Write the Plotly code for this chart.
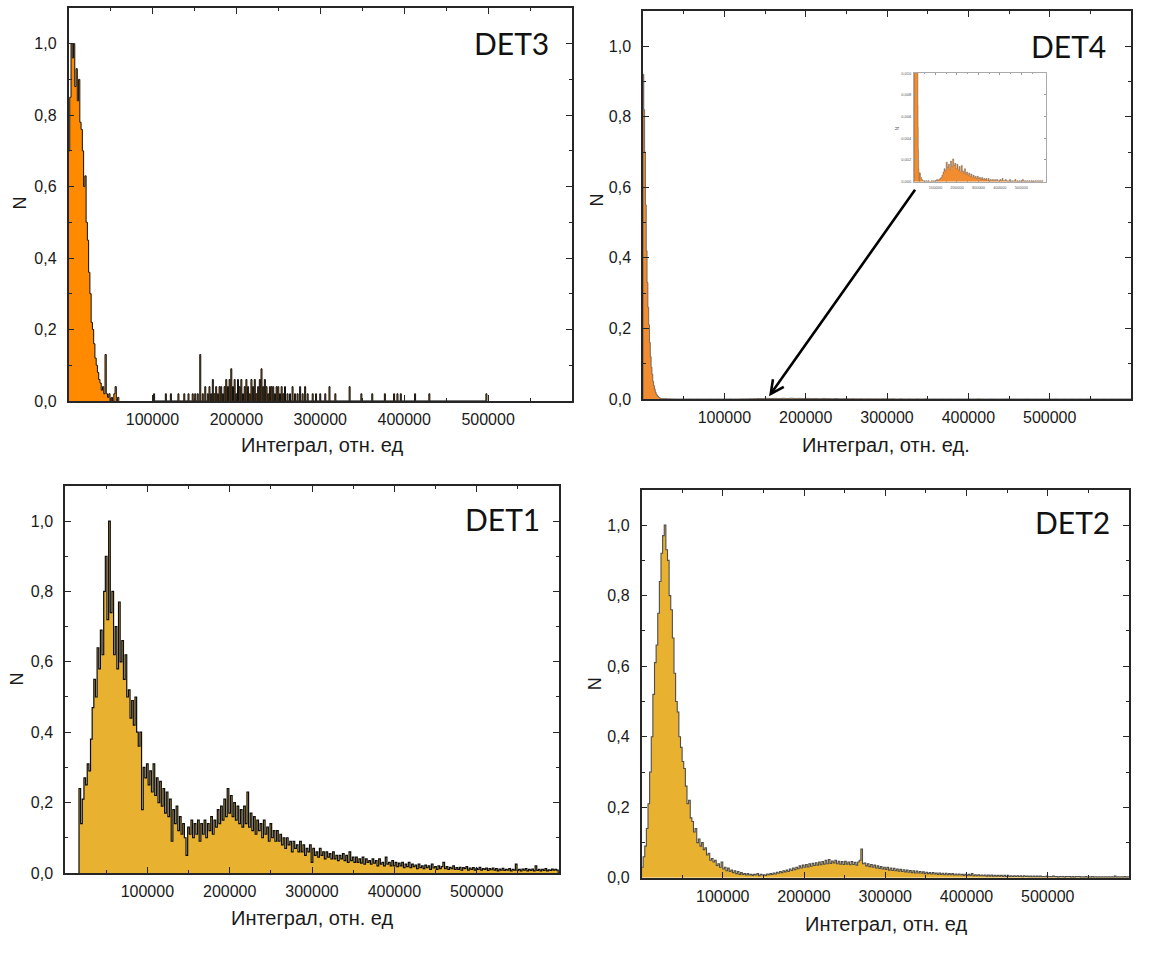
import plotly.graph_objects as go

W, H = 1158, 955

# ---------------- DATA ----------------
# DET1: bins of 2000, first bin left edge 17000
det1_start, det1_bw = 17000, 2000
det1_vals = [
    0.24, 0.14, 0.21, 0.27, 0.25, 0.31, 0.29, 0.38, 0.47, 0.55,
    0.50, 0.64, 0.58, 0.69, 0.62, 0.80, 0.90, 0.72, 1.00, 0.74,
    0.80, 0.62, 0.70, 0.58, 0.77, 0.60, 0.66, 0.55, 0.62, 0.50,
    0.52, 0.44, 0.49, 0.42, 0.50, 0.40, 0.36, 0.40, 0.18, 0.30,
    0.27, 0.31, 0.25, 0.29, 0.23, 0.31, 0.22, 0.27, 0.20, 0.26,
    0.19, 0.24, 0.17, 0.23, 0.16, 0.21, 0.09, 0.18, 0.14, 0.19,
    0.12, 0.16, 0.11, 0.14, 0.10, 0.05, 0.13, 0.11, 0.15, 0.10,
    0.14, 0.11, 0.15, 0.09, 0.14, 0.11, 0.15, 0.10, 0.14, 0.12,
    0.16, 0.11, 0.15, 0.13, 0.18, 0.14, 0.19, 0.15, 0.21, 0.16,
    0.24, 0.17, 0.22, 0.16, 0.20, 0.15, 0.19, 0.14, 0.18, 0.13,
    0.19, 0.14, 0.23, 0.13, 0.17, 0.12, 0.16, 0.11, 0.15, 0.12,
    0.14, 0.10, 0.15, 0.11, 0.13, 0.09, 0.14, 0.10, 0.12, 0.09,
    0.12, 0.09, 0.11, 0.08, 0.10, 0.07, 0.10, 0.08, 0.09, 0.06,
    0.09, 0.07, 0.08, 0.06, 0.09, 0.06, 0.08, 0.05, 0.07, 0.06,
    0.08, 0.03, 0.07, 0.05, 0.06, 0.045, 0.07, 0.05, 0.06, 0.04,
    0.06, 0.045, 0.055, 0.04, 0.06, 0.04, 0.05, 0.035, 0.05, 0.04,
    0.055, 0.035, 0.05, 0.03, 0.06, 0.035, 0.045, 0.03, 0.045, 0.03,
    0.04, 0.028, 0.045, 0.025, 0.04, 0.03, 0.035, 0.025, 0.04, 0.028,
    0.035, 0.02, 0.04, 0.025, 0.03, 0.02, 0.045, 0.025, 0.03, 0.02,
    0.035, 0.02, 0.03, 0.018, 0.028, 0.02, 0.03, 0.015, 0.025, 0.018,
    0.03, 0.015, 0.025, 0.018, 0.022, 0.012, 0.025, 0.015, 0.02, 0.012,
    0.022, 0.015, 0.02, 0.01, 0.025, 0.014, 0.018, 0.01, 0.02, 0.012,
    0.018, 0.03, 0.012, 0.018, 0.01, 0.016, 0.012, 0.02, 0.01, 0.015,
    0.01, 0.016, 0.008, 0.015, 0.012, 0.018, 0.008, 0.014, 0.01, 0.015,
    0.008, 0.013, 0.01, 0.016, 0.008, 0.012, 0.01, 0.014, 0.007, 0.012,
    0.009, 0.014, 0.008, 0.012, 0.006, 0.011, 0.008, 0.013, 0.007, 0.01,
    0.008, 0.012, 0.006, 0.01, 0.008, 0.025, 0.007, 0.01, 0.006, 0.011,
    0.008, 0.012, 0.006, 0.01, 0.007, 0.011, 0.006, 0.02, 0.007, 0.01,
    0.006, 0.01, 0.007, 0.012, 0.006, 0.009, 0.007, 0.011, 0.008, 0.01,
    0.008,
]

# DET2: bins of 2000 from 0
det2_start, det2_bw = 0, 2000
det2_vals = [
    0.03, 0.06, 0.09, 0.14, 0.21, 0.30, 0.40, 0.52, 0.61, 0.66,
    0.75, 0.84, 0.92, 0.97, 1.00, 0.93, 0.90, 0.80, 0.76, 0.68,
    0.58, 0.50, 0.47, 0.40, 0.37, 0.33, 0.31, 0.26, 0.21, 0.22,
    0.17, 0.16, 0.13, 0.14, 0.10, 0.11, 0.09, 0.10, 0.08, 0.085,
    0.065, 0.07, 0.05, 0.055, 0.045, 0.05, 0.035, 0.04, 0.03, 0.045,
    0.025, 0.03, 0.02, 0.028, 0.018, 0.022, 0.015, 0.02, 0.012, 0.018,
    0.01, 0.015, 0.01, 0.012, 0.008, 0.012, 0.008, 0.01, 0.007, 0.01,
    0.008, 0.012, 0.006, 0.01, 0.008, 0.009, 0.007, 0.011, 0.009, 0.012,
    0.01, 0.014, 0.011, 0.016, 0.013, 0.018, 0.015, 0.02, 0.017, 0.022,
    0.018, 0.025, 0.021, 0.028, 0.023, 0.03, 0.026, 0.034, 0.028, 0.036,
    0.03, 0.038, 0.031, 0.04, 0.033, 0.041, 0.035, 0.043, 0.036, 0.045,
    0.037, 0.046, 0.039, 0.05, 0.04, 0.052, 0.041, 0.048, 0.042, 0.05,
    0.04, 0.047, 0.039, 0.046, 0.038, 0.047, 0.039, 0.045, 0.037, 0.046,
    0.038, 0.044, 0.036, 0.045, 0.05, 0.082, 0.04, 0.042, 0.034, 0.04,
    0.032, 0.038, 0.03, 0.036, 0.028, 0.034, 0.027, 0.032, 0.025, 0.03,
    0.024, 0.03, 0.022, 0.028, 0.021, 0.027, 0.02, 0.025, 0.019, 0.024,
    0.018, 0.023, 0.017, 0.022, 0.016, 0.021, 0.015, 0.02, 0.014, 0.019,
    0.014, 0.018, 0.013, 0.017, 0.012, 0.016, 0.012, 0.015, 0.011, 0.015,
    0.011, 0.014, 0.01, 0.014, 0.01, 0.013, 0.009, 0.013, 0.009, 0.012,
    0.009, 0.012, 0.008, 0.011, 0.008, 0.011, 0.008, 0.01, 0.007, 0.01,
    0.007, 0.01, 0.007, 0.012, 0.006, 0.009, 0.006, 0.009, 0.006, 0.008,
    0.006, 0.008, 0.005, 0.008, 0.005, 0.008, 0.005, 0.007, 0.005, 0.007,
    0.005, 0.007, 0.004, 0.007, 0.004, 0.007, 0.004, 0.006, 0.004, 0.006,
    0.004, 0.006, 0.004, 0.006, 0.003, 0.006, 0.004, 0.005, 0.003, 0.005,
    0.003, 0.005, 0.003, 0.005, 0.003, 0.005, 0.003, 0.004, 0.003, 0.005,
    0.003, 0.004, 0.003, 0.005, 0.003, 0.004, 0.002, 0.004, 0.003, 0.004,
    0.002, 0.004, 0.003, 0.004, 0.002, 0.004, 0.002, 0.004, 0.003, 0.004,
    0.002, 0.003, 0.002, 0.004, 0.002, 0.003, 0.002, 0.004, 0.002, 0.003,
    0.002, 0.003, 0.002, 0.003, 0.002, 0.003, 0.002, 0.003, 0.002, 0.003,
    0.002, 0.005, 0.002, 0.003, 0.002, 0.003, 0.002, 0.004, 0.002, 0.003,
]

# DET3: main peak, bins of 1500 from 0
det3_start, det3_bw = 0, 1500
det3_vals = [
    0.70, 0.85, 1.00, 0.96, 1.00, 0.88, 0.93, 0.84, 0.90, 0.78,
    0.76, 0.70, 0.60, 0.63, 0.50, 0.45, 0.36, 0.30, 0.22, 0.20,
    0.16, 0.12, 0.10, 0.08, 0.06, 0.05, 0.03, 0.04, 0.02, 0.13,
    0.02, 0.01, 0.02, 0.0, 0.01, 0.0, 0.02, 0.04, 0.0, 0.01,
]
# DET3: sparse tail (bin centres and heights), narrow bins
det3_tail_bw = 1200
det3_tail_x = [
    102000, 116000, 122000, 131000, 138000, 143000, 148000, 151000, 154000, 157000,
    160000, 163000, 166000, 168000, 170000, 172000, 174000, 176000, 178000, 180000,
    182000, 184000, 186000, 188000, 190000, 192000, 194000, 196000, 198000, 200000,
    202000, 204000, 206000, 208000, 210000, 212000, 214000, 216000, 218000, 220000,
    222000, 224000, 226000, 228000, 230000, 232000, 234000, 236000, 238000, 240000,
    242000, 244000, 246000, 248000, 250000, 252000, 254000, 256000, 258000, 261000,
    264000, 267000, 270000, 273000, 276000, 279000, 282000, 285000, 291000, 295000,
    300000, 306000, 311000, 318000, 335000, 349000, 362000, 377000, 388000, 392000,
    396000, 413000, 430000, 498000,
]
det3_tail_y = [
    0.02, 0.02, 0.02, 0.02, 0.02, 0.02, 0.02, 0.02, 0.02, 0.13,
    0.02, 0.04, 0.02, 0.04, 0.02, 0.06, 0.02, 0.04, 0.02, 0.04,
    0.04, 0.02, 0.04, 0.06, 0.04, 0.06, 0.09, 0.04, 0.06, 0.02,
    0.06, 0.04, 0.06, 0.02, 0.04, 0.06, 0.04, 0.02, 0.06, 0.04,
    0.06, 0.02, 0.04, 0.06, 0.09, 0.04, 0.06, 0.04, 0.02, 0.04,
    0.04, 0.04, 0.02, 0.04, 0.04, 0.02, 0.04, 0.02, 0.04, 0.02,
    0.02, 0.04, 0.02, 0.02, 0.04, 0.02, 0.04, 0.02, 0.02, 0.02,
    0.02, 0.02, 0.04, 0.02, 0.04, 0.02, 0.02, 0.02, 0.02, 0.02,
    0.02, 0.02, 0.02, 0.02,
]

# DET4: main peak, bins of 1000 from 0
det4_start, det4_bw = 0, 1000
det4_vals = [
    0.92, 0.82, 0.70, 0.55, 0.42, 0.33, 0.26, 0.21, 0.16, 0.12,
    0.09, 0.07, 0.05, 0.038, 0.028, 0.02, 0.014, 0.010, 0.007, 0.005,
    0.003, 0.002, 0.0012, 0.0009, 0.0008,
]
# DET4: weak tail (visible only in the inset), bins of 5000 from 25000
det4_tail_start, det4_tail_bw = 25000, 5000
det4_tail_vals = [
    0.0008, 0.0004, 0.0002, 0.0001, 0.0001, 0.0, 0.0001, 0.0, 0.0001, 0.0,
    0.0, 0.0001, 0.0, 0.0001, 0.0, 0.0001, 0.0002, 0.0001, 0.0002, 0.0003,
    0.0004, 0.0006, 0.0009, 0.0012, 0.0010, 0.0018, 0.0013, 0.0016, 0.0011, 0.0019,
    0.0014, 0.0021, 0.0015, 0.0017, 0.0012, 0.0016, 0.0011, 0.0014, 0.0009, 0.0015,
    0.0010, 0.0008, 0.0012, 0.0007, 0.0009, 0.0006, 0.0008, 0.0005, 0.0007, 0.0004,
    0.0006, 0.0004, 0.0005, 0.0003, 0.0005, 0.0003, 0.0004, 0.0002, 0.0004, 0.0002,
    0.0003, 0.0002, 0.0003, 0.0001, 0.0003, 0.0001, 0.0002, 0.0001, 0.0002, 0.0001,
    0.0002, 0.0001, 0.0002, 0.0001, 0.0001, 0.0002, 0.0001, 0.0003, 0.0001, 0.0001,
    0.0002, 0.0001, 0.0, 0.0001, 0.0002, 0.0, 0.0001, 0.0, 0.0001, 0.0002,
    0.0, 0.0001, 0.0, 0.0001, 0.0, 0.0001, 0.0002, 0.0, 0.0001, 0.0,
    0.0001, 0.0, 0.0001, 0.0, 0.0001, 0.0, 0.0001, 0.0, 0.0001, 0.0,
    0.0001, 0.0, 0.0001, 0.0, 0.0001,
]

x_major = [100000, 200000, 300000, 400000, 500000]
x_major_text = ["100000", "200000", "300000", "400000", "500000"]
x_minor = [50000, 150000, 250000, 350000, 450000, 550000]
y_major = [0.0, 0.2, 0.4, 0.6, 0.8, 1.0]
y_major_text = ["0,0", "0,2", "0,4", "0,6", "0,8", "1,0"]
y_minor = [0.1, 0.3, 0.5, 0.7, 0.9]
inset_y_major = [0.0, 0.002, 0.004, 0.006, 0.008, 0.010]
inset_y_text = ["0,000", "0,002", "0,004", "0,006", "0,008", "0,010"]

x_title = "Интеграл, отн. ед"
x_title_det4 = "Интеграл, отн. ед."
y_title = "N"

# ---------------- helpers ----------------
def uniform_bins(start, bw, vals):
    return [start + i * bw for i in range(len(vals))], list(vals), bw

def step_path(lefts, vals, bw):
    xs, ys = [], []
    prev_right = None
    for l, v in zip(lefts, vals):
        if prev_right is None:
            xs.append(l); ys.append(0)
        elif l > prev_right + 1e-6:
            xs.append(prev_right); ys.append(0)
            xs.append(l); ys.append(0)
        xs.append(l); ys.append(v)
        prev_right = l + bw
    xs.append(prev_right); ys.append(0)
    return xs, ys

def hist_trace(lefts, vals, bw, fill, line, lw, xa, ya):
    xs, ys = step_path(lefts, vals, bw)
    return go.Scatter(x=xs, y=ys, mode="lines", line=dict(shape="hv", color=line, width=lw),
                      fill="tozeroy", fillcolor=fill, xaxis=xa, yaxis=ya,
                      hoverinfo="skip", showlegend=False)

def px(x): return x / W
def py(y): return 1 - y / H

# ---------------- figure ----------------
fig = go.Figure()

ORANGE3 = "#FF8A00"
ORANGE4 = "#F28C30"
GOLD = "#E8B230"

# DET3 -> axes 1
l, v, bw = uniform_bins(det3_start, det3_bw, det3_vals)
fig.add_trace(hist_trace(l, v, bw, ORANGE3, "#111111", 1.0, "x", "y"))
tail_lefts = [c - det3_tail_bw / 2 for c in det3_tail_x]
fig.add_trace(hist_trace(tail_lefts, det3_tail_y, det3_tail_bw, ORANGE3, "#111111", 1.0, "x", "y"))

# DET4 -> axes 2
l4, v4, bw4 = uniform_bins(det4_start, det4_bw, det4_vals)
fig.add_trace(hist_trace(l4, v4, bw4, ORANGE4, "#555555", 0.8, "x2", "y2"))
lt, vt, bwt = uniform_bins(det4_tail_start, det4_tail_bw, det4_tail_vals)
fig.add_trace(hist_trace(lt, vt, bwt, ORANGE4, "#555555", 0.8, "x2", "y2"))

# DET1 -> axes 3
l1, v1, bw1 = uniform_bins(det1_start, det1_bw, det1_vals)
fig.add_trace(hist_trace(l1, v1, bw1, GOLD, "#0d0d0d", 1.2, "x3", "y3"))

# DET2 -> axes 4
l2, v2, bw2 = uniform_bins(det2_start, det2_bw, det2_vals)
fig.add_trace(hist_trace(l2, v2, bw2, GOLD, "#4d4d4d", 1.1, "x4", "y4"))

# Inset (DET4 zoom) -> axes 5
fig.add_trace(hist_trace(l4, v4, bw4, ORANGE4, "rgba(60,60,60,0.6)", 0.6, "x5", "y5"))
fig.add_trace(hist_trace(lt, vt, bwt, ORANGE4, "rgba(60,60,60,0.6)", 0.6, "x5", "y5"))

# panel boxes in pixels: (left, right, top, bottom)
boxes = {
    1: (68.5, 572, 5, 403),
    2: (643, 1131, 8, 401),
    3: (65, 559, 489, 881),
    4: (641.5, 1129, 493, 886),
}

tick_font = dict(family="Liberation Sans, Arial, sans-serif", size=16, color="#1a1a1a")
AX = "#262626"

layout_axes = {}
for i, (L, R, T, B) in boxes.items():
    xname = "xaxis" if i == 1 else f"xaxis{i}"
    yname = "yaxis" if i == 1 else f"yaxis{i}"
    anchor_x = "y" if i == 1 else f"y{i}"
    anchor_y = "x" if i == 1 else f"x{i}"
    layout_axes[xname] = dict(
        domain=[px(L), px(R)], anchor=anchor_x, range=[0, 600000],
        showline=True, linecolor=AX, linewidth=1.5, mirror="allticks",
        ticks="inside", ticklen=6, tickwidth=1.3, tickcolor=AX,
        tickmode="array", tickvals=x_major, ticktext=x_major_text,
        minor=dict(tickmode="array", tickvals=x_minor, ticks="inside", ticklen=3.5,
                   tickwidth=1.2, tickcolor=AX),
        showgrid=False, zeroline=False, tickfont=tick_font, fixedrange=True,
        ticklabelstandoff=3,
    )
    layout_axes[yname] = dict(
        domain=[py(B), py(T)], anchor=anchor_y, range=[0, 1.1],
        showline=True, linecolor=AX, linewidth=1.5, mirror="allticks",
        ticks="inside", ticklen=6, tickwidth=1.3, tickcolor=AX,
        tickmode="array", tickvals=y_major, ticktext=y_major_text,
        minor=dict(tickmode="array", tickvals=y_minor, ticks="inside", ticklen=3.5,
                   tickwidth=1.2, tickcolor=AX),
        showgrid=False, zeroline=False, tickfont=tick_font, fixedrange=True,
        ticklabelstandoff=7,
    )

# inset axes
IL, IR, IT, IB = 914, 1046, 71, 181
inset_font = dict(family="Liberation Sans, Arial, sans-serif", size=4, color="#555555")
layout_axes["xaxis5"] = dict(
    domain=[px(IL), px(IR)], anchor="y5", range=[0, 615000],
    showline=True, linecolor="#aaaaaa", linewidth=1, mirror="allticks",
    ticks="inside", ticklen=2, tickwidth=0.8, tickcolor="#999999",
    tickmode="array", tickvals=x_major, ticktext=x_major_text,
    minor=dict(tickmode="array", tickvals=x_minor, ticks="inside", ticklen=1.2,
               tickwidth=0.6, tickcolor="#999999"),
    showgrid=False, zeroline=False, tickfont=inset_font, fixedrange=True,
    ticklabelstandoff=1,
)
layout_axes["yaxis5"] = dict(
    domain=[py(IB), py(IT)], anchor="x5", range=[0, 0.010],
    showline=True, linecolor="#aaaaaa", linewidth=1, mirror="allticks",
    ticks="inside", ticklen=2, tickwidth=0.8, tickcolor="#999999",
    tickmode="array", tickvals=inset_y_major, ticktext=inset_y_text,
    showgrid=False, zeroline=False, tickfont=inset_font, fixedrange=True,
    ticklabelstandoff=1,
)

title_font = dict(family="Liberation Sans, Arial, sans-serif", size=20, color="#1a1a1a")
det_font = dict(family="Lato, Open Sans, sans-serif", size=30, color="#111111")

annotations = []
for text, (cx, cy) in [("DET3", (511, 41)), ("DET4", (1068, 44)),
                       ("DET1", (502, 523)), ("DET2", (1072, 526))]:
    annotations.append(dict(text=text, x=px(cx), y=py(cy), xref="paper", yref="paper",
                            xanchor="center", yanchor="middle", showarrow=False, font=det_font))
for text, (cx, cy) in [(x_title, (322, 448)), (x_title_det4, (886, 448)),
                       (x_title, (312, 927)), (x_title, (886, 933))]:
    annotations.append(dict(text=text, x=px(cx), y=py(cy), xref="paper", yref="paper",
                            xanchor="center", yanchor="middle", showarrow=False, font=title_font))
for (cx, cy) in [(20, 203), (597, 200), (17, 685), (595, 690)]:
    annotations.append(dict(text=y_title, x=px(cx), y=py(cy), xref="paper", yref="paper",
                            xanchor="center", yanchor="middle", showarrow=False,
                            textangle=-90, font=dict(family="Liberation Sans, Arial, sans-serif",
                                                     size=18, color="#1a1a1a")))
annotations.append(dict(text=y_title, x=px(897), y=py(127), xref="paper", yref="paper",
                        xanchor="center", yanchor="middle", showarrow=False, textangle=-90,
                        font=dict(family="Liberation Sans, Arial, sans-serif", size=5, color="#555555")))
# arrow from the inset to the DET4 tail
annotations.append(dict(x=155000, y=0.008, xref="x2", yref="y2",
                        ax=335800, ay=0.597, axref="x2", ayref="y2",
                        showarrow=True, arrowhead=5, arrowsize=1.0, arrowwidth=2.6,
                        arrowcolor="#000000", text=""))

fig.update_layout(
    width=W, height=H, margin=dict(l=0, r=0, t=0, b=0),
    paper_bgcolor="white", plot_bgcolor="white", showlegend=False,
    annotations=annotations, **layout_axes,
)

# remove the default page margin so the figure sits at the window origin
fig.write_html("out.html", config={"displayModeBar": False},
               post_script="document.body.style.margin='0px';")
